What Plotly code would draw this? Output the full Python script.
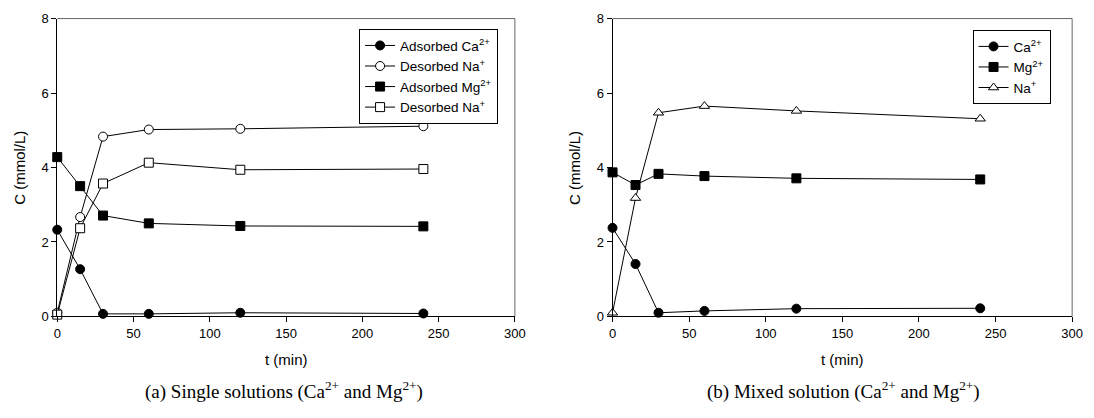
import plotly.graph_objects as go

t = [0, 15, 30, 60, 120, 240]

# (a) Single solutions
a_ads_ca = [2.33, 1.27, 0.07, 0.07, 0.10, 0.08]
a_des_na1 = [0.10, 2.67, 4.83, 5.02, 5.04, 5.11]
a_ads_mg = [4.28, 3.50, 2.71, 2.50, 2.43, 2.42]
a_des_na2 = [0.05, 2.37, 3.57, 4.13, 3.94, 3.96]

# (b) Mixed solution
b_ca = [2.38, 1.41, 0.10, 0.15, 0.21, 0.22]
b_mg = [3.87, 3.53, 3.83, 3.77, 3.71, 3.68]
b_na = [0.10, 3.18, 5.47, 5.65, 5.52, 5.31]

W, H = 1094, 418
FONT = "Liberation Sans, Arial, sans-serif"
SERIF = "Liberation Serif, Times New Roman, serif"


def px_x(p):
    return p / W


def px_y(p):
    return 1 - p / H


fig = go.Figure()

line = dict(color="black", width=1)


def mk(sym, filled):
    return dict(symbol=sym, size=9, color="black" if filled else "white",
                line=dict(color="black", width=1))


fig.add_trace(go.Scatter(x=t, y=a_ads_ca, mode="lines+markers", name="Adsorbed Ca<sup>2+</sup>",
                         line=line, marker=mk("circle", True), xaxis="x", yaxis="y",
                         legend="legend", cliponaxis=False))
fig.add_trace(go.Scatter(x=t, y=a_des_na1, mode="lines+markers", name="Desorbed Na<sup>+</sup>",
                         line=line, marker=mk("circle", False), xaxis="x", yaxis="y",
                         legend="legend", cliponaxis=False))
fig.add_trace(go.Scatter(x=t, y=a_ads_mg, mode="lines+markers", name="Adsorbed Mg<sup>2+</sup>",
                         line=line, marker=mk("square", True), xaxis="x", yaxis="y",
                         legend="legend", cliponaxis=False))
fig.add_trace(go.Scatter(x=t, y=a_des_na2, mode="lines+markers", name="Desorbed Na<sup>+</sup>",
                         line=line, marker=mk("square", False), xaxis="x", yaxis="y",
                         legend="legend", cliponaxis=False))

fig.add_trace(go.Scatter(x=t, y=b_ca, mode="lines+markers", name="Ca<sup>2+</sup>",
                         line=line, marker=mk("circle", True), xaxis="x2", yaxis="y2",
                         legend="legend2", cliponaxis=False))
fig.add_trace(go.Scatter(x=t, y=b_mg, mode="lines+markers", name="Mg<sup>2+</sup>",
                         line=line, marker=mk("square", True), xaxis="x2", yaxis="y2",
                         legend="legend2", cliponaxis=False))
fig.add_trace(go.Scatter(x=t, y=b_na, mode="lines+markers", name="Na<sup>+</sup>",
                         line=line, marker=mk("triangle-up", False), xaxis="x2", yaxis="y2",
                         legend="legend2", cliponaxis=False))

ydom = [px_y(321), px_y(12)]
axis_common = dict(showline=True, linecolor="black", linewidth=1, mirror=False,
                   ticks="outside", ticklen=5, tickcolor="black", showgrid=False, zeroline=False,
                   tickfont=dict(family=FONT, size=13, color="black"))

fig.update_layout(
    width=W, height=H,
    margin=dict(l=0, r=0, t=0, b=0),
    paper_bgcolor="white", plot_bgcolor="white",
    font=dict(family=FONT, color="black"),
    xaxis=dict(domain=[px_x(54), px_x(518)], range=[0, 300], dtick=50, anchor="y", **axis_common),
    yaxis=dict(domain=ydom, range=[0, 8], dtick=2, anchor="x", **axis_common),
    xaxis2=dict(domain=[px_x(617), px_x(1083)], range=[0, 300], dtick=50, anchor="y2", **axis_common),
    yaxis2=dict(domain=ydom, range=[0, 8], dtick=2, anchor="x2", **axis_common),
    legend=dict(x=px_x(360), y=px_y(23), xanchor="left", yanchor="top",
                bordercolor="black", borderwidth=1, bgcolor="white", itemwidth=30,
                font=dict(family=FONT, size=13.5), tracegroupgap=0),
    legend2=dict(x=px_x(982), y=px_y(24), xanchor="left", yanchor="top",
                 bordercolor="black", borderwidth=1, bgcolor="white", itemwidth=30,
                 font=dict(family=FONT, size=13.5), tracegroupgap=0),
    showlegend=True,
)

# gray frame (top/right) around each plot area
for xr, yr in (("x domain", "y domain"), ("x2 domain", "y2 domain")):
    fig.add_shape(type="line", xref=xr, yref=yr, x0=0, x1=1, y0=1, y1=1,
                  line=dict(color="#666666", width=1), layer="below")
    fig.add_shape(type="line", xref=xr, yref=yr, x0=1, x1=1, y0=0, y1=1,
                  line=dict(color="#666666", width=1), layer="below")

annots = [
    dict(text="C (mmol/L)", x=px_x(15), y=px_y(167), textangle=-90),
    dict(text="C (mmol/L)", x=px_x(578), y=px_y(167), textangle=-90),
    dict(text="t (min)", x=px_x(286), y=px_y(366)),
    dict(text="t (min)", x=px_x(850), y=px_y(366)),
]
for a in annots:
    fig.add_annotation(xref="paper", yref="paper", showarrow=False,
                       font=dict(family=FONT, size=15, color="black"),
                       xanchor="center", yanchor="middle", **a)

caps = [
    dict(text="(a) Single solutions (Ca<sup>2+</sup> and Mg<sup>2+</sup>)", x=px_x(284), y=px_y(398)),
    dict(text="(b) Mixed solution (Ca<sup>2+</sup> and Mg<sup>2+</sup>)", x=px_x(851), y=px_y(398)),
]
for a in caps:
    fig.add_annotation(xref="paper", yref="paper", showarrow=False,
                       font=dict(family=SERIF, size=19, color="black"),
                       xanchor="center", yanchor="middle", **a)

fig.write_html("out.html")
